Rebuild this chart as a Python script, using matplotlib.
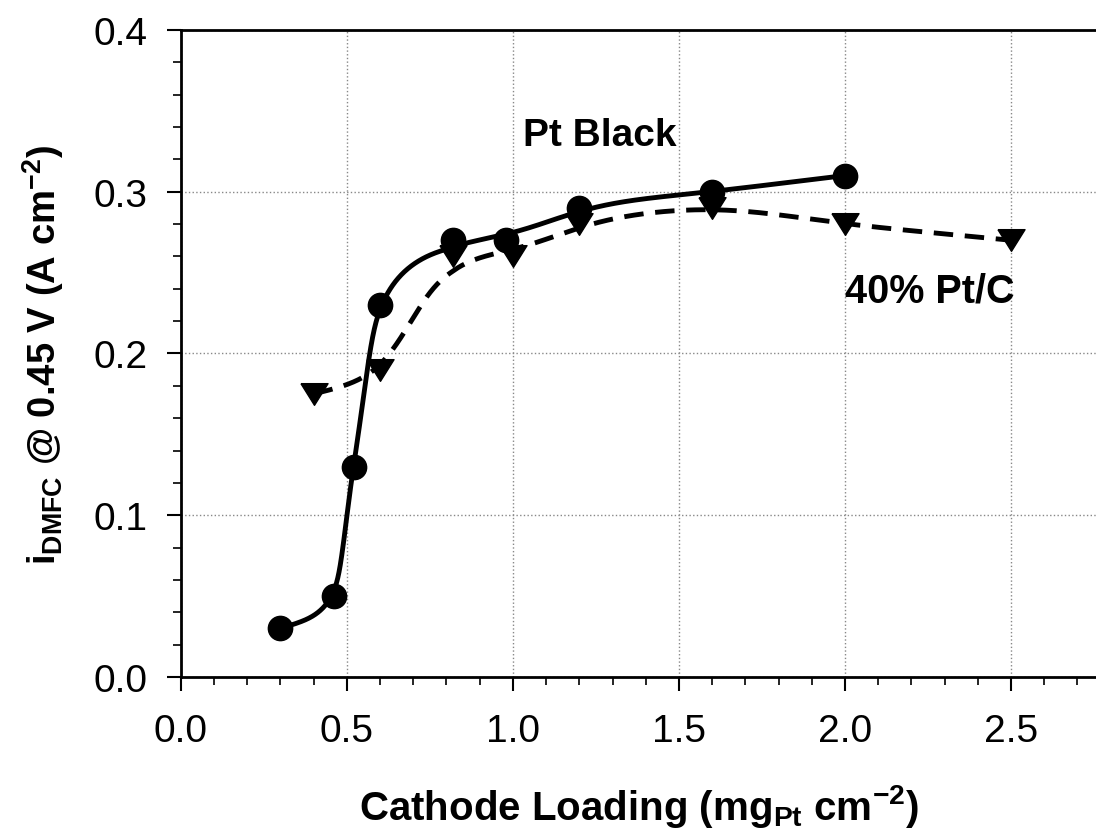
import numpy as np
import matplotlib
matplotlib.use("Agg")
import matplotlib.pyplot as plt
from matplotlib.ticker import MultipleLocator

plt.rcParams['font.family'] = ['Liberation Sans', 'DejaVu Sans']
plt.rcParams['mathtext.fontset'] = 'custom'
plt.rcParams['mathtext.rm'] = 'Liberation Sans'
plt.rcParams['mathtext.bf'] = 'Liberation Sans:bold'
plt.rcParams['mathtext.it'] = 'Liberation Sans:italic'

# Data
pt_black_x = [0.30, 0.46, 0.52, 0.60, 0.82, 0.98, 1.20, 1.60, 2.00]
pt_black_y = [0.030, 0.050, 0.130, 0.230, 0.270, 0.270, 0.290, 0.300, 0.310]
ptc_x = [0.40, 0.60, 0.82, 1.00, 1.20, 1.60, 2.00, 2.50]
ptc_y = [0.175, 0.190, 0.260, 0.260, 0.280, 0.290, 0.280, 0.270]
x_ticks = [0.0, 0.5, 1.0, 1.5, 2.0, 2.5]
y_ticks = [0.0, 0.1, 0.2, 0.3, 0.4]

XLIM = (0, 2.756)
YLIM = (0, 0.4)


def smooth_curve(x, y, sx, sy, sig_x, sig_px, n=1500):
    """Cubic Hermite curve through the points, then smoothed geometrically along
    its arc length in display units (like a plotting-package smoothing spline).
    sig_x / sig_px give the smoothing width (pixels) as a function of x."""
    x = np.asarray(x, float); y = np.asarray(y, float)
    h = np.diff(x); d = np.diff(y) / h
    m = np.empty(len(x))
    m[1:-1] = (y[2:] - y[:-2]) / (x[2:] - x[:-2])
    m[0] = d[0]; m[-1] = d[-1]
    for k in range(len(d)):
        if d[k] != 0:
            a = m[k] / d[k]; b = m[k + 1] / d[k]
            s = a * a + b * b
            if s > 9:
                t = 3 / np.sqrt(s)
                m[k] = t * a * d[k]; m[k + 1] = t * b * d[k]
    xn = np.linspace(x[0], x[-1], 4000)
    idx = np.clip(np.searchsorted(x, xn) - 1, 0, len(x) - 2)
    t = (xn - x[idx]) / h[idx]
    h00 = 2 * t**3 - 3 * t**2 + 1; h10 = t**3 - 2 * t**2 + t
    h01 = -2 * t**3 + 3 * t**2; h11 = t**3 - t**2
    yn = h00 * y[idx] + h10 * h[idx] * m[idx] + h01 * y[idx + 1] + h11 * h[idx] * m[idx + 1]
    X = xn * sx; Y = yn * sy
    s = np.concatenate([[0], np.cumsum(np.hypot(np.diff(X), np.diff(Y)))])
    su = np.linspace(0, s[-1], n)
    Xu = np.interp(su, s, X); Yu = np.interp(su, s, Y)
    ds = su[1] - su[0]
    sig = np.interp(Xu / sx, sig_x, sig_px)
    r = int(4 * sig.max() / ds) + 1

    def ext(v):
        return np.concatenate([2 * v[0] - v[r:0:-1], v, 2 * v[-1] - v[-2:-r - 2:-1]])

    se = (np.arange(n + 2 * r) - r) * ds
    w = np.exp(-0.5 * ((se[None, :] - su[:, None]) / sig[:, None]) ** 2)
    w /= w.sum(1, keepdims=True)
    return (w @ ext(Xu)) / sx, (w @ ext(Yu)) / sy


fig = plt.figure(figsize=(10.96, 8.37), dpi=100)
ax_rect = [0.165, 0.19, 0.835, 0.773]
ax = fig.add_axes(ax_rect)
sx = ax_rect[2] * 1096 / (XLIM[1] - XLIM[0])
sy = ax_rect[3] * 837 / (YLIM[1] - YLIM[0])

tri = [(-1, 0.8), (1, 0.8), (0, -0.8), (-1, 0.8)]

xs1, ys1 = smooth_curve(pt_black_x, pt_black_y, sx, sy, [0.55, 0.8], [14, 40])
ax.plot(xs1, ys1, color='black', lw=3.5, zorder=3, solid_capstyle='round')
ax.plot(pt_black_x, pt_black_y, 'o', color='black', ms=17.5, zorder=4)

xs2, ys2 = smooth_curve(ptc_x, ptc_y, sx, sy, [0.6, 0.8], [25, 40])
ax.plot(xs2, ys2, color='black', lw=3.5, ls=(0, (4, 2.4)), zorder=3)
ax.plot(ptc_x, ptc_y, ls='none', marker=tri, color='black', ms=19.5, zorder=4)

ax.set_xlim(*XLIM)
ax.set_ylim(*YLIM)
ax.set_xticks(x_ticks)
ax.set_yticks(y_ticks)
ax.set_xticklabels([f"{v:.1f}" for v in x_ticks])
ax.set_yticklabels([f"{v:.1f}" for v in y_ticks])
ax.xaxis.set_minor_locator(MultipleLocator(0.1))
ax.yaxis.set_minor_locator(MultipleLocator(0.02))
ax.tick_params(axis='both', which='major', labelsize=28, length=10, width=1.5, direction='out')
ax.tick_params(axis='x', which='major', pad=16)
ax.tick_params(axis='y', which='major', pad=14)
ax.tick_params(axis='both', which='minor', length=6, width=1.2, direction='out')
ax.grid(True, which='major', color='#888888', ls=':', lw=1.0)
ax.set_axisbelow(True)
for s in ['left', 'bottom', 'top']:
    ax.spines[s].set_linewidth(2)
ax.spines['right'].set_visible(False)

ax.set_xlabel(r'Cathode Loading (mg$_{\mathbf{Pt}}$ cm$^{\mathbf{-2}}$)', fontsize=29, fontweight='bold', labelpad=24)
ax.set_ylabel(r'i$_{\mathbf{DMFC}}$ @ 0.45 V (A cm$^{\mathbf{-2}}$)', fontsize=27.5, fontweight='bold', labelpad=20)

ax.text(1.03, 0.335, 'Pt Black', fontsize=28, fontweight='bold', ha='left', va='center')
ax.text(2.0, 0.239, '40% Pt/C', fontsize=28.5, fontweight='bold', ha='left', va='center')

fig.savefig('out.png', dpi=100)
